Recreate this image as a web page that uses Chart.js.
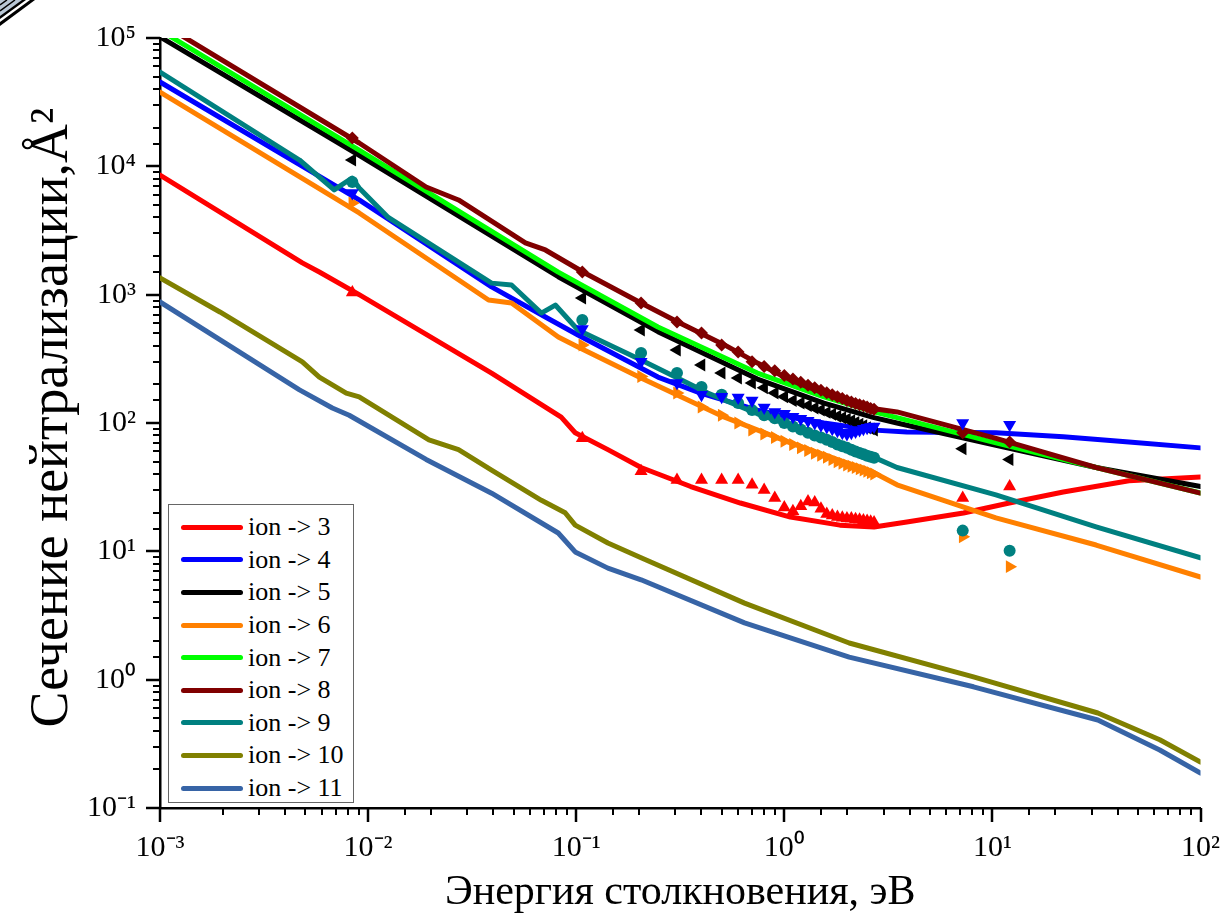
<!DOCTYPE html>
<html lang="ru">
<head>
  <meta charset="UTF-8">
  <title>Сечение нейтрализации</title>
  <style>
    body {
      margin: 0;
      background: #fff;
    }
    .wrap {
      position: relative;
      width: 1228px;
      height: 922px;
    }
    #legend {
      position: absolute;
      left: 168px;
      top: 504px;
      width: 186px;
      height: 299px;
      box-sizing: border-box;
      border: 1.5px solid #666;
      background: #fff;
      padding-top: 6px;
      font-family: 'Liberation Serif', 'Times New Roman', serif;
      font-size: 26px;
      color: #000;
    }
    #legend .row {
      display: flex;
      align-items: center;
      height: 32.6px;
    }
    #legend .sw {
      display: inline-block;
      width: 62px;
      height: 5px;
      border-radius: 3px;
      margin-left: 12px;
      margin-right: 5px;
    }
    .corner {
      position: absolute;
      left: 0;
      top: 0;
    }
  </style>
</head>
<body>
  <div class="wrap">
    <canvas id="chart" width="1228" height="922"></canvas>
    <div id="legend"></div>
    <svg class="corner" width="40" height="30">
      <polygon points="0,0 35,0 0,26" fill="#000"/>
      <polygon points="0,0 30,0 0,22" fill="#fff"/>
      <polygon points="0,0 26,0 0,19" fill="#000"/>
      <polygon points="0,0 22,0 0,16" fill="#b9c7d6"/>
      <line x1="0" y1="11" x2="15" y2="0" stroke="#000" stroke-width="1.5"/>
      <line x1="0" y1="5" x2="7" y2="0" stroke="#000" stroke-width="1.5"/>
    </svg>
  </div>

  <script src="https://cdn.jsdelivr.net/npm/chart.js@4.4.1/dist/chart.umd.min.js"></script>
  <script>
    // series names and colours
    const seriesNames  = ['ion -> 3', 'ion -> 4', 'ion -> 5', 'ion -> 6', 'ion -> 7', 'ion -> 8', 'ion -> 9', 'ion -> 10', 'ion -> 11'];
    const seriesColors = ['#ff0000', '#0000ff', '#000000', '#ff8000', '#00ff00', '#800000', '#008080', '#808000', '#3764a6'];

    // computed curves: energy (eV) and cross-section (A^2)
    const ion3E  = [0.001, 0.00483, 0.00583, 0.00906, 0.0392, 0.0847, 0.0989, 0.142, 0.205, 0.355, 0.615, 1.07, 1.85, 2.7, 3.88, 7.26, 12.05, 21.9, 45.3, 100];
    const ion3S  = [8550, 1770, 1500, 1000, 245, 111, 84, 62, 45, 32, 23.8, 18.5, 16.0, 15.5, 16.9, 19.9, 23.8, 29, 35.5, 38];
    const ion4E  = [0.001, 0.00906, 0.0392, 0.0711, 0.102, 0.247, 0.396, 0.743, 1.07, 1.55, 2.7, 3.88, 10.4, 21.9, 45.3, 100];
    const ion4S  = [45400, 5470, 1150, 670, 485, 228, 171, 126, 111, 100, 88, 85, 84, 78, 71, 64];
    const ion5E  = [0.001, 0.00906, 0.082, 0.247, 0.743, 1.55, 2.7, 3.48, 10.4, 31.5, 100];
    const ion5S  = [102000, 12200, 1380, 515, 220, 143, 110, 100, 67, 45, 32];
    const ion6E  = [0.001, 0.00906, 0.0379, 0.0489, 0.082, 0.102, 0.205, 0.516, 1.07, 2.7, 3.48, 10.4, 31.5, 100];
    const ion6S  = [37900, 4330, 908, 861, 468, 391, 224, 111, 70, 41, 33, 18.2, 11.2, 6.3];
    const ion7E  = [0.001, 0.00906, 0.082, 0.247, 0.743, 1.55, 2.7, 3.48, 10.4, 31.5, 100];
    const ion7S  = [115000, 13400, 1500, 560, 245, 160, 122, 110, 70, 45, 28.5];
    const ion8E  = [0.001, 0.00906, 0.019, 0.0272, 0.057, 0.0711, 0.110, 0.205, 0.308, 0.516, 0.743, 1.07, 1.55, 2.23, 3.48, 10.4, 31.5, 100];
    const ion8S  = [132000, 15200, 6900, 5470, 2530, 2230, 1475, 861, 612, 406, 293, 216, 171, 135, 122, 76, 45, 28.4];
    const ion9E  = [0.001, 0.00468, 0.00687, 0.00837, 0.00906, 0.0125, 0.0392, 0.0489, 0.068, 0.0794, 0.102, 0.205, 0.429, 0.743, 1.55, 2.7, 3.48, 10.4, 31.5, 100];
    const ion9S  = [54300, 11200, 6550, 8110, 6780, 4000, 1230, 1190, 719, 830, 531, 310, 171, 118, 78, 54, 45, 27.5, 15.5, 8.9];
    const ion10E = [0.001, 0.00194, 0.00483, 0.00583, 0.00785, 0.00906, 0.0196, 0.0272, 0.0392, 0.068, 0.0885, 0.0989, 0.142, 0.205, 0.644, 2.05, 8.11, 32.1, 63.7, 100];
    const ion10S = [1350, 733, 299, 228, 171, 160, 74, 62, 43, 25, 20, 16, 11.6, 8.9, 3.95, 1.93, 1.05, 0.55, 0.34, 0.228];
    const ion11E = [0.001, 0.00468, 0.00673, 0.00811, 0.019, 0.0392, 0.082, 0.0989, 0.142, 0.205, 0.644, 2.05, 8.11, 32.1, 63.7, 100];
    const ion11S = [877, 181, 131, 115, 52, 28.4, 13.9, 9.9, 7.4, 6.0, 2.77, 1.50, 0.88, 0.485, 0.283, 0.187];

    // symbol points (same energies for every series)
    const markerE    = [0.0084, 0.107, 0.205, 0.305, 0.4, 0.5, 0.6, 0.7, 0.8, 0.9, 1.0, 1.1, 1.2, 1.3, 1.4, 1.5, 1.6, 1.7, 1.8, 1.9, 2.0, 2.1, 2.2, 2.3, 2.4, 2.5, 2.6, 2.7, 7.2, 12.1];
    const ion3Marks  = [1040, 76, 42, 36, 36, 36, 36, 33, 30, 26, 22, 20.5, 22.5, 24.5, 24, 21.5, 19.5, 19, 18.5, 18.3, 18, 18, 17.8, 17.6, 17.4, 17.2, 17, 16.8, 26, 32];
    const ion4Marks  = [6200, 540, 300, 205, 166, 160, 158, 150, 132, 122, 118, 112, 108, 104, 100, 96, 93, 90, 87, 84, 82, 84, 86, 88, 90, 92, 93, 94, 100, 97];
    const ion5Marks  = [11200, 940, 531, 371, 283, 245, 224, 205, 188, 171, 160, 150, 143, 137, 131, 126, 121, 117, 113, 110, 107, 104, 101, 98, 95, 92, 90, 88, 63, 52];
    const ion6Marks  = [5180, 406, 230, 171, 133, 115, 100, 88, 82, 77, 72, 68, 64, 61, 58, 56, 54, 52, 50, 48.5, 47, 46, 45, 44, 43, 42, 41, 40, 13, 7.6];
    const ion8Marks  = [16600, 1500, 861, 612, 502, 406, 357, 300, 275, 255, 235, 220, 208, 197, 188, 180, 172, 166, 160, 155, 150, 146, 142, 139, 136, 133, 130, 128, 84, 71];
    const ion9Marks  = [7550, 635, 351, 245, 191, 166, 143, 126, 115, 109, 100, 94, 89, 84, 80, 77, 74, 71, 68, 66, 64, 62, 60, 58.5, 57, 55.5, 54.5, 53.5, 14.5, 10.1];

    const FONT = "'Liberation Serif', 'Times New Roman', serif";
    const SUP = {'-': '⁻', '0': '⁰', '1': '¹', '2': '²', '3': '³', '4': '⁴', '5': '⁵'};

    function pairs(xs, ys) {
      return xs.map((x, i) => ({x: x, y: ys[i]}));
    }
    function decade(v) {
      const e = Math.round(Math.log10(v));
      return Math.abs(v / Math.pow(10, e) - 1) < 1e-6 ? e : null;
    }
    function powLabel(v) {
      const e = decade(v);
      if (e === null) return '';
      return '10' + String(e).split('').map(c => SUP[c]).join('');
    }

    function curve(idx, xs, ys, order) {
      return {
        label: seriesNames[idx], data: pairs(xs, ys),
        borderColor: seriesColors[idx], borderWidth: 5,
        borderJoinStyle: 'round', borderCapStyle: 'round',
        pointRadius: 0, tension: 0,
        clip: 0, order: order
      };
    }
    function marks(idx, ys, style, rot, r, order) {
      return {
        label: seriesNames[idx] + ' pts', data: pairs(markerE, ys),
        showLine: false, pointStyle: style, rotation: rot, pointRadius: r,
        backgroundColor: seriesColors[idx], borderColor: seriesColors[idx], borderWidth: 0,
        order: order
      };
    }

    const datasets = [
      marks(0, ion3Marks, 'triangle', 0, 7.5, 1),
      marks(1, ion4Marks, 'triangle', 180, 7.5, 2),
      marks(2, ion5Marks, 'triangle', -90, 7.5, 3),
      marks(6, ion9Marks, 'circle', 0, 6, 4),
      marks(3, ion6Marks, 'triangle', 90, 7.5, 5),
      marks(5, ion8Marks, 'rectRot', 0, 6.5, 6),
      curve(5, ion8E, ion8S, 10),
      curve(4, ion7E, ion7S, 11),
      curve(2, ion5E, ion5S, 12),
      curve(6, ion9E, ion9S, 13),
      curve(3, ion6E, ion6S, 14),
      curve(1, ion4E, ion4S, 15),
      curve(0, ion3E, ion3S, 16),
      curve(7, ion10E, ion10S, 17),
      curve(8, ion11E, ion11S, 18)
    ];

    // log ticks: long at decades, short in between, pointing outwards
    const tickMarks = {
      id: 'tickMarks',
      afterDraw(chart) {
        const ctx = chart.ctx;
        const xs = chart.scales.x, ys = chart.scales.y;
        ctx.save();
        ctx.strokeStyle = '#000';
        ctx.lineCap = 'butt';
        xs.ticks.forEach(t => {
          const p = Math.round(xs.getPixelForValue(t.value));
          const major = decade(t.value) !== null;
          ctx.lineWidth = major ? 2.5 : 2;
          ctx.beginPath();
          ctx.moveTo(p, xs.top);
          ctx.lineTo(p, xs.top + (major ? 14 : 7));
          ctx.stroke();
        });
        ys.ticks.forEach(t => {
          const p = Math.round(ys.getPixelForValue(t.value));
          const major = decade(t.value) !== null;
          ctx.lineWidth = major ? 2.5 : 2;
          ctx.beginPath();
          ctx.moveTo(ys.right, p);
          ctx.lineTo(ys.right - (major ? 14 : 7), p);
          ctx.stroke();
        });
        ctx.restore();
      }
    };

    new Chart(document.getElementById('chart'), {
      type: 'line',
      data: { datasets: datasets },
      options: {
        responsive: false,
        animation: false,
        devicePixelRatio: 1,
        layout: { padding: { top: 38, right: 23, left: 0, bottom: 0 } },
        plugins: { legend: { display: false }, tooltip: { enabled: false } },
        scales: {
          x: {
            type: 'logarithmic', min: 0.001, max: 100, position: 'bottom',
            grid: { display: false, drawTicks: true, tickLength: 14 },
            border: { display: true, color: '#000', width: 2.5 },
            ticks: { autoSkip: false, maxRotation: 0, padding: 8, color: '#000',
                     font: { family: FONT, size: 30 }, callback: v => powLabel(v) },
            title: { display: true, text: 'Энергия столкновения, эВ', color: '#000',
                     font: { family: FONT, size: 42 }, padding: { top: 0, bottom: 4 } },
            afterFit: s => { s.height = 114; }
          },
          y: {
            type: 'logarithmic', min: 0.1, max: 100000, position: 'left',
            grid: { display: false, drawTicks: true, tickLength: 14 },
            border: { display: true, color: '#000', width: 2.5 },
            ticks: { autoSkip: false, padding: 10, color: '#000',
                     font: { family: FONT, size: 30 }, callback: v => powLabel(v) },
            title: { display: true, text: '\u2009Сечение нейтрализации,Å²', color: '#000',
                     font: { family: FONT, size: 54 }, padding: { top: 20, bottom: 0 } },
            afterFit: s => { s.width = 160; }
          }
        }
      },
      plugins: [tickMarks]
    });

    // legend box inside the plot
    const legend = document.getElementById('legend');
    seriesNames.forEach((name, i) => {
      const row = document.createElement('div');
      row.className = 'row';
      const sw = document.createElement('span');
      sw.className = 'sw';
      sw.style.background = seriesColors[i];
      const tx = document.createElement('span');
      tx.textContent = name;
      row.appendChild(sw);
      row.appendChild(tx);
      legend.appendChild(row);
    });
  </script>
</body>
</html>
